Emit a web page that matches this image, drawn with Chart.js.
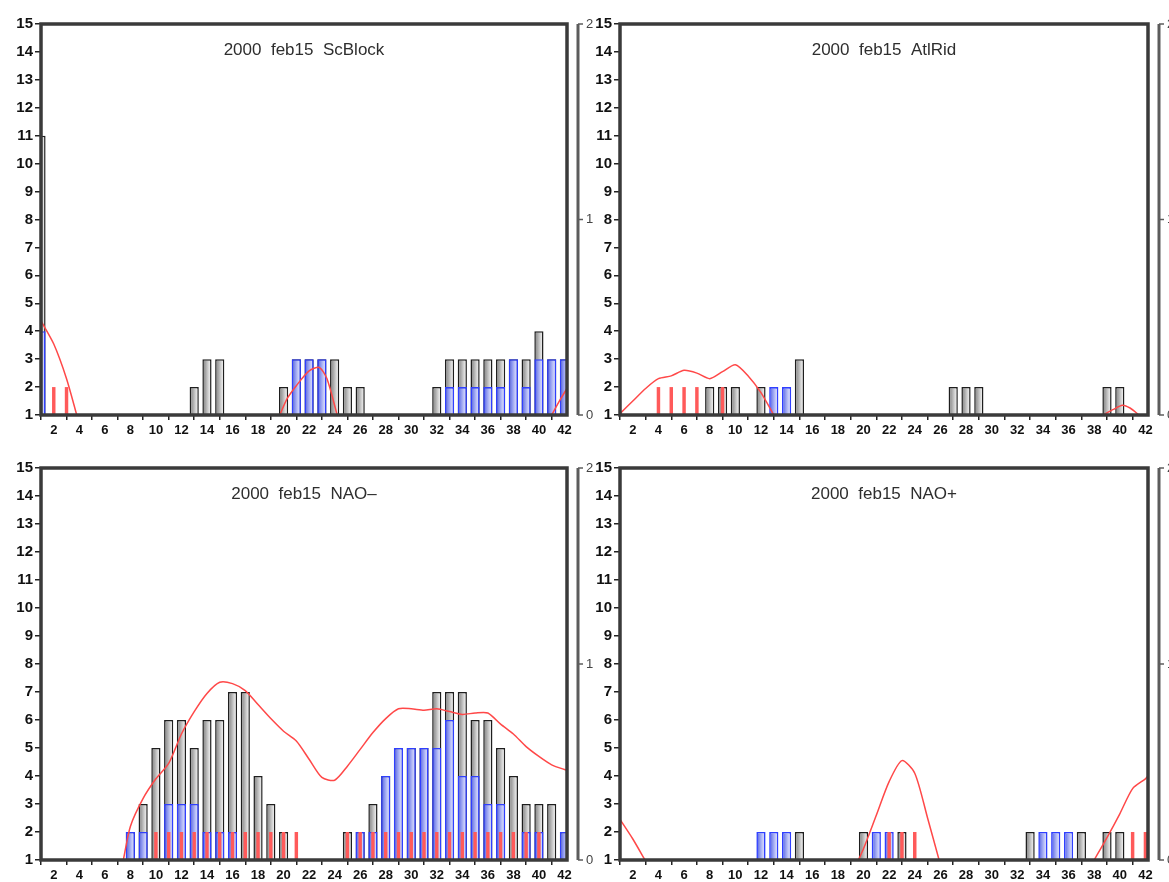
<!DOCTYPE html>
<html><head><meta charset="utf-8">
<script src="https://cdn.jsdelivr.net/npm/chart.js@4.4.1/dist/chart.umd.min.js"></script>
<style>
html,body{margin:0;padding:0;background:#fff;width:1169px;height:882px;overflow:hidden}
canvas{position:absolute}
</style></head><body>
<canvas id="c1" width="600" height="441" style="left:0;top:0;width:600px;height:441px"></canvas>
<canvas id="c2" width="589" height="441" style="left:580px;top:0;width:589px;height:441px"></canvas>
<canvas id="c3" width="600" height="441" style="left:0;top:441px;width:600px;height:441px"></canvas>
<canvas id="c4" width="589" height="441" style="left:580px;top:441px;width:589px;height:441px"></canvas>
<script>
// ---- tick labels ----
const xTickLabels = [2,4,6,8,10,12,14,16,18,20,22,24,26,28,30,32,34,36,38,40,42];
const yTickLabels = [1,2,3,4,5,6,7,8,9,10,11,12,13,14,15];
const rightTickLabels = [0,1,2];

// ---- titles ----
const titles = ['2000  feb15  ScBlock', '2000  feb15  AtlRid', '2000  feb15  NAO\u2013', '2000  feb15  NAO+'];

// ---- ScBlock ----
const scGray = [[1,11],[13,2],[14,3],[15,3],[20,2],[21,3],[22,3],[23,3],[24,3],[25,2],[26,2],[32,2],[33,3],[34,3],[35,3],[36,3],[37,3],[38,3],[39,3],[40,4],[41,3],[42,3]];
const scBlue = [[1,4],[21,3],[22,3],[23,3],[33,2],[34,2],[35,2],[36,2],[37,2],[38,3],[39,2],[40,3],[41,3],[42,3]];
const scRed = [[2,2],[3,2]];
const scLine1 = [[1,4.37],[2,3.54],[3,2.3],[3.8,1]];
const scLine2 = [[19.7,1],[20.3,1.6],[21,2.05],[22,2.58],[22.8,2.7],[23.4,2.3],[24.2,1]];
const scLine3 = [[41,1],[41.6,1.5],[42.2,1.95]];

// ---- AtlRid ----
const arGray = [[8,2],[9,2],[10,2],[12,2],[15,3],[27,2],[28,2],[29,2],[39,2],[40,2]];
const arBlue = [[13,2],[14,2]];
const arRed = [[4,2],[5,2],[6,2],[7,2],[9,2]];
const arLine1 = [[1,1.05],[2,1.5],[3,1.95],[4,2.3],[5,2.4],[6,2.6],[7,2.5],[8,2.3],[9,2.55],[10,2.8],[11,2.4],[12,1.8],[13,1]];
const arLine2 = [[38.7,1],[39.5,1.2],[40.2,1.35],[40.8,1.25],[41.5,1]];

// ---- NAO- ----
const nmGray = [[8,2],[9,3],[10,5],[11,6],[12,6],[13,5],[14,6],[15,6],[16,7],[17,7],[18,4],[19,3],[20,2],[25,2],[26,2],[27,3],[28,4],[29,5],[30,5],[31,5],[32,7],[33,7],[34,7],[35,6],[36,6],[37,5],[38,4],[39,3],[40,3],[41,3],[42,2]];
const nmBlue = [[8,2],[9,2],[11,3],[12,3],[13,3],[14,2],[15,2],[16,2],[26,2],[27,2],[28,4],[29,5],[30,5],[31,5],[32,5],[33,6],[34,4],[35,4],[36,3],[37,3],[39,2],[40,2],[42,2]];
const nmRed = [[10,2],[11,2],[12,2],[13,2],[14,2],[15,2],[16,2],[17,2],[18,2],[19,2],[20,2],[21,2],[25,2],[26,2],[27,2],[28,2],[29,2],[30,2],[31,2],[32,2],[33,2],[34,2],[35,2],[36,2],[37,2],[38,2],[39,2],[40,2]];
const nmLine1 = [[7.45,1],[8,2.2],[9,3.2],[10,3.9],[11,4.45],[12,5.5],[13,6.3],[14,6.95],[15,7.35],[16,7.3],[17,7.05],[18,6.55],[19,6.05],[20,5.6],[21,5.25],[22,4.6],[23,3.95],[24,3.85],[25,4.35],[26,4.95],[27,5.55],[28,6.05],[29,6.4],[30,6.4],[31,6.35],[32,6.4],[33,6.3],[34,6.2],[35,6.25],[36,6.25],[37,5.85],[38,5.5],[39,5.05],[40,4.7],[41,4.4],[42.2,4.2]];

// ---- NAO+ ----
const npGray = [[15,2],[20,2],[23,2],[33,2],[37,2],[39,2],[40,2]];
const npBlue = [[12,2],[13,2],[14,2],[21,2],[22,2],[34,2],[35,2],[36,2]];
const npRed = [[22,2],[23,2],[24,2],[41,2],[42,2]];
const npLine1 = [[1,2.45],[2,1.75],[2.95,1]];
const npLine2 = [[19.6,1],[20,1.4],[21,2.6],[22,3.8],[23,4.55],[24,4.1],[25,2.5],[25.9,1]];
const npLine3 = [[38,1],[39,1.8],[40,2.65],[41,3.55],[42,3.9],[42.2,4.0]];

// ---- styles ----
const grayShade = ['#858585','#a5a5a5','#d5d5d5','#ffffff'];
const blueShade = ['#4656e0','#8792ee','#c0c6f8','#e6e8ff'];

const toPts = a => a.map(p => ({x:p[0], y:p[1]}));

const shadePlugin = {
  id: 'shade',
  beforeDatasetDraw(chart, args) {
    const ds = chart.data.datasets[args.index];
    if (!ds.shade) return;
    const ctx = chart.ctx;
    args.meta.data.forEach(el => {
      if (!isFinite(el.x) || !isFinite(el.width)) return;
      const l = el.x - el.width / 2, r = el.x + el.width / 2;
      const g = ctx.createLinearGradient(l, 0, r, 0);
      ds.shade.forEach((c, i) => g.addColorStop(i / (ds.shade.length - 1), c));
      el.options = Object.assign({}, el.options, {backgroundColor: g});
    });
  }
};

const framePlugin = {
  id: 'frame',
  afterDraw(chart, args, opts) {
    const ctx = chart.ctx, a = chart.chartArea;
    ctx.save();
    ctx.strokeStyle = '#3a3a3a'; ctx.lineWidth = 3.5;
    ctx.strokeRect(a.left, a.top, a.right - a.left, a.bottom - a.top);
    const s = chart.scales.y2;
    const bx = a.right + 11;
    ctx.strokeStyle = '#5c5c5c'; ctx.lineWidth = 3;
    ctx.beginPath(); ctx.moveTo(bx, s.getPixelForValue(2)); ctx.lineTo(bx, s.getPixelForValue(0)); ctx.stroke();
    ctx.lineWidth = 1.5;
    ctx.fillStyle = '#444'; ctx.font = '13px "Liberation Sans", Arial, sans-serif';
    ctx.textAlign = 'left'; ctx.textBaseline = 'middle';
    rightTickLabels.forEach(v => {
      const y = s.getPixelForValue(v);
      ctx.beginPath(); ctx.moveTo(bx, y); ctx.lineTo(bx + 5, y); ctx.stroke();
      ctx.fillText(String(v), bx + 8, y);
    });
    ctx.fillStyle = '#2e2e2e'; ctx.font = '17px "Liberation Sans", Arial, sans-serif';
    ctx.textAlign = 'center';
    ctx.fillText(opts.text, (a.left + a.right) / 2, a.top + 26);
    ctx.restore();
  }
};

function makePanel(id, title, gray, blue, red, lines, g) {
  const datasets = [];
  lines.forEach(l => datasets.push({type:'line', data: toPts(l), borderColor:'#ff4848', borderWidth:1.5, pointRadius:0, tension:0.25, order:0}));
  datasets.push({type:'bar', data: toPts(red), backgroundColor:'#ff5a5a', borderWidth:0, base:1, grouped:false, barPercentage:0.27, categoryPercentage:1, order:1});
  datasets.push({type:'bar', data: toPts(blue), shade: blueShade, backgroundColor:'#8c97ee', borderColor:'#2f3fff', borderWidth:1.6, base:1, grouped:false, barPercentage:0.72, categoryPercentage:1, order:2});
  datasets.push({type:'bar', data: toPts(gray), shade: grayShade, backgroundColor:'#bdbdbd', borderColor:'#1e1e1e', borderWidth:1.5, base:1, grouped:false, barPercentage:0.72, categoryPercentage:1, order:3});
  return new Chart(document.getElementById(id), {
    type: 'bar',
    data: {datasets},
    plugins: [shadePlugin, framePlugin],
    options: {
      responsive: false, animation: false, devicePixelRatio: 1,
      layout: {padding: {left: 0, top: g.top, right: g.right, bottom: 0}},
      plugins: {legend: {display:false}, tooltip: {enabled:false}, frame: {text: title}},
      scales: {
        x: {type:'linear', min:1, max:42.2, offset:false,
            afterBuildTicks: s => { s.ticks = xTickLabels.map(v => ({value:v})); },
            afterFit: s => { s.height = g.xh; },
            ticks: {autoSkip:false, maxRotation:0, padding:3, color:'#111', font:{family:'"Liberation Sans", Arial, sans-serif', size:13, weight:'bold'}, callback: v => String(v)},
            grid: {drawOnChartArea:false, tickLength:5, color:'#222', lineWidth:1.5},
            border: {display:false}},
        y: {type:'linear', min:1, max:15, position:'left',
            afterBuildTicks: s => { s.ticks = yTickLabels.map(v => ({value:v})); },
            afterFit: s => { s.width = g.yw; },
            ticks: {autoSkip:false, padding:2, color:'#111', font:{family:'"Liberation Sans", Arial, sans-serif', size:15, weight:'bold'}, callback: v => String(v)},
            grid: {drawOnChartArea:false, tickLength:6, color:'#222', lineWidth:1.5},
            border: {display:false}},
        y2: {type:'linear', min:0, max:2, position:'right', display:false}
      }
    }
  });
}

const gLeftTop = {top:24, right:33, xh:26, yw:41};
const gRightTop = {top:24, right:21, xh:26, yw:40};
const gLeftBot = {top:27, right:33, xh:22, yw:41};
const gRightBot = {top:27, right:21, xh:22, yw:40};

makePanel('c1', titles[0], scGray, scBlue, scRed, [scLine1, scLine2, scLine3], gLeftTop);
makePanel('c2', titles[1], arGray, arBlue, arRed, [arLine1, arLine2], gRightTop);
makePanel('c3', titles[2], nmGray, nmBlue, nmRed, [nmLine1], gLeftBot);
makePanel('c4', titles[3], npGray, npBlue, npRed, [npLine1, npLine2, npLine3], gRightBot);
</script>
</body></html>
